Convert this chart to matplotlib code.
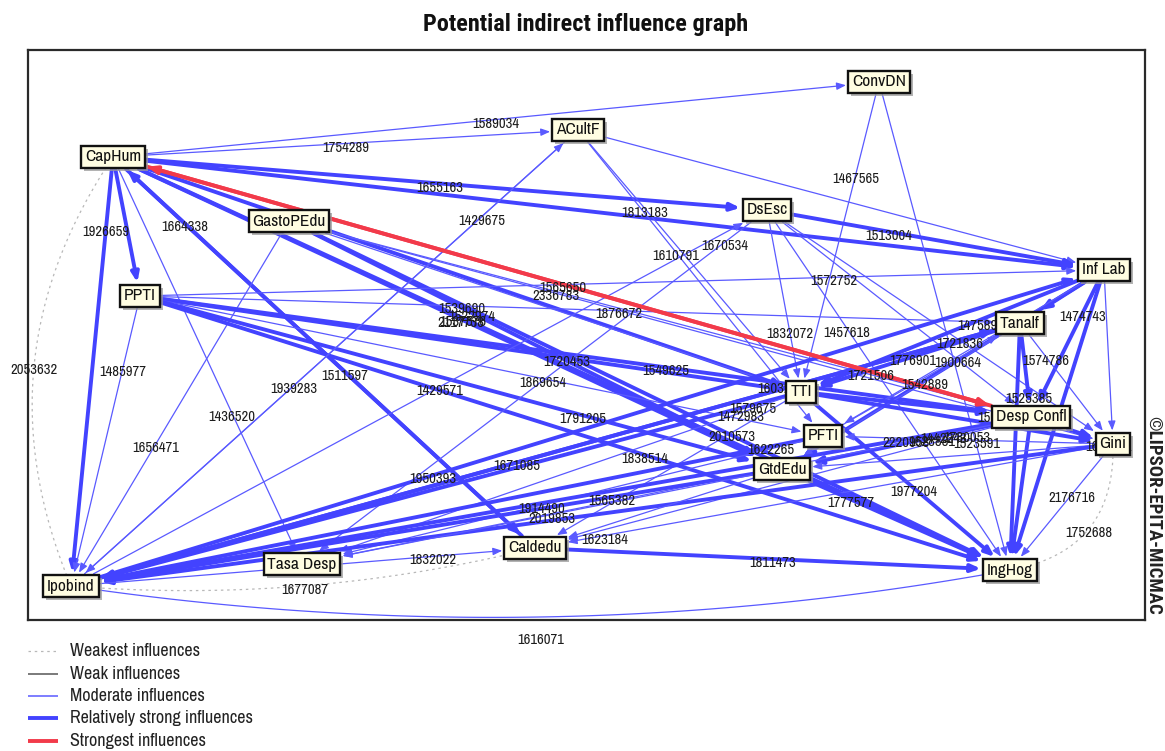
import matplotlib
matplotlib.use("Agg")
import matplotlib.pyplot as plt
import matplotlib.transforms as mtrans
from matplotlib.patches import FancyArrowPatch
import numpy as np

FONT = ["Archivo Narrow", "DejaVu Sans"]
BOLD_FONT = ["Roboto Condensed", "DejaVu Sans"]
plt.rcParams["font.family"] = FONT

# ---------------- data ----------------
title = "Potential indirect influence graph"
credit = "\u00a9LIPSOR-EPITA-MICMAC"

node_names = ["ConvDN", "ACultF", "CapHum", "DsEsc", "GastoPEdu", "Inf Lab",
              "PPTI", "Tanalf", "TTI", "Desp Confl", "PFTI", "Gini", "GtdEdu",
              "Caldedu", "Tasa Desp", "IngHog", "Ipobind"]
# layout of the nodes on the map (pixel-like map units)
node_x = [879, 578, 113, 767, 289, 1104, 140, 1020, 801, 1031, 823, 1113, 782, 535, 302, 1010, 71]
node_y = [82, 130, 157, 210, 221, 270, 296, 323, 392, 417, 436, 444, 469, 548, 564, 570, 586]

# influence levels: 0 weakest, 1 weak, 2 moderate, 3 relatively strong, 4 strongest
edge_src = ["CapHum", "CapHum", "CapHum", "CapHum", "CapHum", "Desp Confl", "CapHum", "CapHum",
            "CapHum", "CapHum", "Caldedu", "CapHum", "CapHum", "CapHum", "CapHum",
            "GastoPEdu", "GastoPEdu", "GastoPEdu", "GastoPEdu", "GastoPEdu", "GastoPEdu",
            "PPTI", "PPTI", "PPTI", "PPTI", "PPTI", "PPTI", "PPTI", "PPTI",
            "ACultF", "Ipobind", "ACultF", "ACultF", "ACultF", "ConvDN", "ConvDN",
            "DsEsc", "DsEsc", "DsEsc", "DsEsc", "DsEsc", "DsEsc",
            "Ipobind", "Ipobind", "Ipobind",
            "Inf Lab", "Inf Lab", "Inf Lab", "Inf Lab", "Inf Lab", "Inf Lab", "Inf Lab",
            "Tanalf", "Tanalf", "Tanalf", "Tanalf", "Tanalf", "Tanalf", "PFTI",
            "TTI", "TTI", "TTI", "TTI", "TTI", "TTI", "PFTI", "PFTI",
            "Desp Confl", "Desp Confl", "Desp Confl", "Desp Confl", "Desp Confl", "Desp Confl",
            "Gini", "Gini", "Gini", "Gini", "Gini", "Gini",
            "GtdEdu", "GtdEdu", "GtdEdu", "GtdEdu", "Caldedu",
            "Ipobind", "Ipobind", "Ipobind"]
edge_dst = ["ConvDN", "ACultF", "DsEsc", "Inf Lab", "Desp Confl", "CapHum", "GtdEdu", "IngHog",
            "TTI", "Caldedu", "CapHum", "Tasa Desp", "PPTI", "Ipobind", "Ipobind",
            "Ipobind", "GtdEdu", "IngHog", "Gini", "Desp Confl", "TTI",
            "Inf Lab", "Tanalf", "TTI", "Desp Confl", "PFTI", "GtdEdu", "IngHog", "Ipobind",
            "Ipobind", "ACultF", "Inf Lab", "TTI", "PFTI", "TTI", "IngHog",
            "Inf Lab", "TTI", "IngHog", "Desp Confl", "Gini", "Tasa Desp",
            "DsEsc", "Inf Lab", "Tanalf",
            "TTI", "Tanalf", "Desp Confl", "IngHog", "Gini", "GtdEdu", "PFTI",
            "Gini", "Desp Confl", "IngHog", "TTI", "Ipobind", "GtdEdu", "Tanalf",
            "Desp Confl", "IngHog", "Gini", "Ipobind", "Caldedu", "Tasa Desp", "Ipobind", "Tasa Desp",
            "Gini", "IngHog", "Ipobind", "GtdEdu", "Caldedu", "Tasa Desp",
            "IngHog", "IngHog", "PFTI", "Caldedu", "GtdEdu", "Ipobind",
            "IngHog", "Ipobind", "Tasa Desp", "Caldedu", "IngHog",
            "Caldedu", "Caldedu", "IngHog"]
edge_level = [2, 2, 3, 3, 4, 4, 3, 3,
              3, 3, 3, 2, 3, 3, 0,
              2, 3, 3, 2, 2, 2,
              2, 2, 3, 3, 2, 3, 3, 2,
              2, 2, 2, 2, 2, 2, 2,
              3, 2, 2, 2, 2, 2,
              2, 3, 3,
              3, 3, 3, 3, 2, 3, 2,
              2, 3, 3, 3, 3, 2, 2,
              3, 3, 3, 3, 2, 2, 3, 2,
              3, 3, 3, 3, 2, 2,
              2, 0, 2, 2, 2, 3,
              3, 3, 2, 2, 3,
              2, 0, 2]
edge_value = ["1589034", "1754289", "1655163", "", "1565650", "1721506", "2117738", "1537576",
              "1603245", "1664338", "1511597", "1436520", "", "1926659", "2053632",
              "1656471", "1522974", "1539690", "1876672", "2336783", "",
              "1572752", "1475892", "1720453", "1549625", "1869654", "1791205", "1838514", "1485977",
              "1429675", "1939283", "", "1813183", "1610791", "1467565", "",
              "1513004", "1832072", "1457618", "", "", "1670534",
              "1429571", "1950393", "1671085",
              "", "", "1474743", "", "", "", "",
              "1574786", "1525385", "", "1776901", "1721836", "1542889", "1900664",
              "1565371", "1977204", "", "1579675", "2010573", "1472983", "1622265", "1914490",
              "1600151", "", "2220958", "1628881", "1780053", "1442243",
              "2176716", "1752688", "1523591", "1623184", "", "",
              "1777577", "1565382", "2019853", "", "1811473",
              "1832022", "1677087", "1616071"]
# label placement along each link (fraction) and link curvature
edge_t = [0.5, 0.5, 0.5, 0.5, 0.49, 0.175, 0.52, 0.39,
          0.97, 0.17, 0.45, 0.63, 0.5, 0.165, 0.5,
          0.61, 0.37, 0.24, 0.4, 0.36, 0.5,
          0.72, 0.955, 0.645, 0.59, 0.59, 0.69, 0.58, 0.25,
          0.19, 0.44, 0.5, 0.3, 0.4, 0.3, 0.5,
          0.36, 0.66, 0.33, 0.5, 0.5, 0.09,
          0.53, 0.35, 0.47,
          0.5, 0.5, 0.29, 0.5, 0.5, 0.5, 0.5,
          0.28, 0.77, 0.5, 0.49, 0.063, 0.4, 0.685,
          0.87, 0.54, 0.5, 0.066, 0.26, 0.12, 0.07, 0.54,
          0.95, 0.5, 0.13, 0.4, 0.13, 0.12,
          0.4, 0.5, 0.47, 0.88, 0.5, 0.5,
          0.3, 0.24, 0.48, 0.5, 0.5,
          0.78, 0.5, 0.5]
edge_bend = [0.0] * len(edge_src)
edge_bend[14] = 0.27     # CapHum -> Ipobind (arc)
edge_bend[74] = -0.43    # Gini -> IngHog (arc)
edge_bend[85] = 0.081    # Ipobind -> Caldedu (arc)
edge_bend[86] = 0.083    # Ipobind -> IngHog (arc)
label_shift = {86: 19}   # extra downward shift of a few value labels

legend_labels = ["Weakest influences", "Weak influences", "Moderate influences",
                 "Relatively strong influences", "Strongest influences"]

# ---------------- styles ----------------
BLUE_S = "#4343ff"
BLUE_M = "#5a5aff"
RED = "#f23a4a"
level_color = {0: "#b8b8b8", 1: "#7a7a7a", 2: BLUE_M, 3: BLUE_S, 4: RED}
level_lw = {0: 0.9, 1: 1.4, 2: 0.9, 3: 2.8, 4: 2.8}
level_ls = {0: (0, (2, 3)), 1: "-", 2: "-", 3: "-", 4: "-"}

W, H = 1165, 751
fig = plt.figure(figsize=(W / 100, H / 100), dpi=100)
fx0, fx1, fy0, fy1 = 28, 1145, 50, 620
ax = fig.add_axes([fx0 / W, 1 - fy1 / H, (fx1 - fx0) / W, (fy1 - fy0) / H])
ax.set_xlim(fx0, fx1)
ax.set_ylim(fy1, fy0)
ax.set_xticks([])
ax.set_yticks([])
for s in ax.spines.values():
    s.set_linewidth(1.6)
    s.set_color("#2a2a2a")

# overlay for titles / legend in figure pixels
ov = fig.add_axes([0, 0, 1, 1], zorder=-1)
ov.set_xlim(0, W)
ov.set_ylim(H, 0)
ov.axis("off")

pos = {n: (x, y) for n, x, y in zip(node_names, node_x, node_y)}

# nodes
patches = {}
shadow_tr = mtrans.offset_copy(ax.transData, fig=fig, x=3, y=-3, units="dots")
for n in node_names:
    x, y = pos[n]
    ax.text(x, y, n, transform=shadow_tr, ha="center", va="center", fontsize=12.5,
            color="none", zorder=8,
            bbox=dict(boxstyle="square,pad=0.22", fc="#9a9a9a", ec="none", alpha=0.75))
    t = ax.text(x, y, n, ha="center", va="center", fontsize=12.5, color="#111111", zorder=9,
                bbox=dict(boxstyle="square,pad=0.22", fc="#fffde2", ec="#111111", lw=1.7))
    patches[n] = t.get_bbox_patch()

fig.canvas.draw()


def bez(a, c, b, t):
    a, c, b = np.asarray(a, float), np.asarray(c, float), np.asarray(b, float)
    t = np.asarray(t)[..., None]
    return (1 - t) ** 2 * a + 2 * (1 - t) * t * c + t ** 2 * b


for i, (s, d, lev, val, tt, bd) in enumerate(zip(edge_src, edge_dst, edge_level,
                                                 edge_value, edge_t, edge_bend)):
    A = np.array(pos[s], float)
    B = np.array(pos[d], float)
    col, lw, ls = level_color[lev], level_lw[lev], level_ls[lev]
    z = 3 if lev == 4 else 2
    if bd != 0:
        dx, dy = B - A
        C = (A + B) / 2 + bd * np.array([-dy, dx])
        pts = bez(A, C, B, np.linspace(0, 1, 120))
        ax.plot(pts[:, 0], pts[:, 1], color=col, lw=lw, ls=ls, zorder=z,
                solid_capstyle="butt")
        lp = bez(A, C, B, tt)
    else:
        arr = FancyArrowPatch(tuple(A), tuple(B), arrowstyle="-|>,head_length=0.55,head_width=0.22",
                              mutation_scale=10, color=col, lw=lw, ls=ls,
                              patchA=patches[s], patchB=patches[d], shrinkA=0, shrinkB=1,
                              zorder=z)
        ax.add_patch(arr)
        lp = A + tt * (B - A)
    if val:
        ax.text(lp[0], lp[1] + 4 + label_shift.get(i, 0), val, ha="center", va="center",
                fontsize=10.5, color="#1c1c1c", zorder=6, clip_on=False)

# title and credit
ov.text(586, 25, title, ha="center", va="center", fontsize=17.5, fontweight="bold",
        family=BOLD_FONT, color="#111111")
fig.text(1153 / W, 1 - 515 / H, credit, rotation=270, ha="center", va="center",
         fontsize=13.5, fontweight="bold", family=BOLD_FONT, color="#222222")

# legend
leg_y = [651, 674, 696, 718, 741]
for i, (lab, yy) in enumerate(zip(legend_labels, leg_y)):
    ov.plot([28, 58], [yy, yy], color=level_color[i], lw=level_lw[i] if i != 2 else 1.1,
            ls=level_ls[i], solid_capstyle="butt")
    ov.text(70, yy, lab, ha="left", va="center", fontsize=13, color="#222222")

fig.savefig("out.png", dpi=100)
